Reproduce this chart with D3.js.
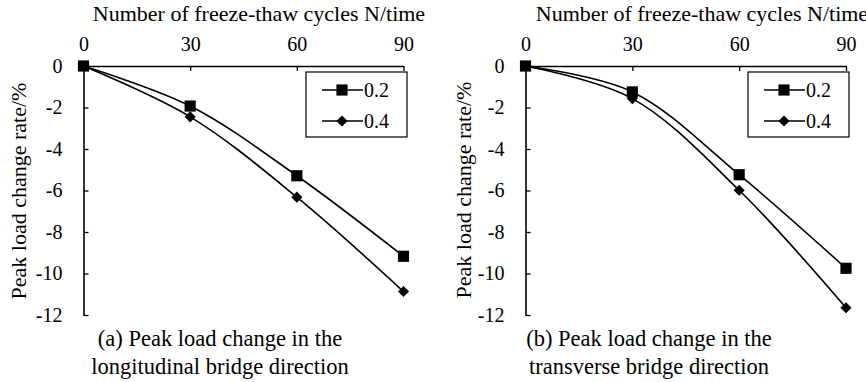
<!DOCTYPE html>
<html>
<head>
<meta charset="utf-8">
<script src="https://cdn.jsdelivr.net/npm/d3@7"></script>
</head>
<body style="margin:0">
<svg id="chart" width="866" height="382"></svg>
<script>
// Freeze-thaw cycles (x) and peak load change rate (%) per series
const cycles = [0, 30, 60, 90];
const seriesNames = ["0.2", "0.4"];
const yTicks = [0, -2, -4, -6, -8, -10, -12];
const xTicks = [0, 30, 60, 90];

const longitudinal02 = [0, -1.93, -5.29, -9.17];
const longitudinal04 = [0, -2.45, -6.32, -10.87];
const transverse02 = [0, -1.25, -5.24, -9.75];
const transverse04 = [0, -1.57, -5.99, -11.65];

const xTitle = "Number of freeze-thaw cycles N/time";
const yTitle = "Peak load change rate/%";
const captionsA = ["(a) Peak load change in the", "longitudinal bridge direction"];
const captionsB = ["(b) Peak load change in the", "transverse bridge direction"];

const svg = d3.select("#chart");

// square marker and a rotated-square diamond marker
const markers = [
  { type: d3.symbolSquare, size: 125, rotate: 0 },
  { type: d3.symbolSquare, size: 62, rotate: 45 }
];

function marker(sel, m) {
  sel.attr("d", d3.symbol().type(m.type).size(m.size)).attr("fill", "#000");
}

function serif(sel, size) {
  sel.style("font-family", "'Liberation Serif'")
    .style("font-size", size + "px")
    .attr("fill", "#000");
}

function drawPanel(opts) {
  const g = svg.append("g");
  const x = d3.scaleLinear().domain([0, 90]).range([opts.x0, opts.x1]);
  const y = d3.scaleLinear().domain([0, -12]).range([66, 315]);

  // top x axis, ticks pointing into the plot
  const xa = g.append("g")
    .attr("transform", `translate(0,${y(0)})`)
    .call(d3.axisTop(x).tickValues(xTicks).tickSizeInner(-5).tickSizeOuter(0).tickPadding(15));
  xa.attr("font-family", null).attr("font-size", null);
  xa.selectAll("text").call(serif, 20);
  xa.select(".domain").attr("stroke-width", 1.3);
  xa.selectAll(".tick line").attr("stroke-width", 1.3);

  // left y axis, ticks pointing into the plot
  const ya = g.append("g")
    .attr("transform", `translate(${x(0)},0)`)
    .call(d3.axisLeft(y).tickValues(yTicks).tickSizeInner(-5).tickSizeOuter(0).tickPadding(21)
      .tickFormat(d => d === 0 ? "0" : String(d).replace("−", "-")));
  ya.attr("font-family", null).attr("font-size", null);
  ya.selectAll("text").call(serif, 20);
  ya.select(".domain").attr("stroke-width", 1.6);
  ya.selectAll(".tick line").attr("stroke-width", 1.3);
  ya.selectAll(".tick").filter(d => d === 0).select("line").remove();

  // axis titles
  g.append("text")
    .attr("x", opts.xtX)
    .attr("y", 21)
    .attr("text-anchor", "middle")
    .call(serif, 22)
    .text(xTitle);

  g.append("text")
    .attr("transform", `translate(${opts.ytX},${opts.ytY}) rotate(-90)`)
    .attr("text-anchor", "middle")
    .call(serif, 22)
    .text(yTitle);

  // smoothed series lines and markers
  const line = d3.line()
    .x((d, i) => x(cycles[i]))
    .y(d => y(d))
    .curve(d3.curveCatmullRom.alpha(0.5));

  opts.series.forEach((vals, si) => {
    g.append("path")
      .datum(vals)
      .attr("d", line)
      .attr("fill", "none")
      .attr("stroke", "#000")
      .attr("stroke-width", 1.6);
    g.selectAll(null)
      .data(vals)
      .enter()
      .append("path")
      .attr("transform", (d, i) => `translate(${x(cycles[i])},${y(d)}) rotate(${markers[si].rotate})`)
      .call(marker, markers[si]);
  });

  // legend
  const lg = g.append("g").attr("transform", `translate(${opts.legX},72)`);
  lg.append("rect")
    .attr("width", 101).attr("height", 65)
    .attr("fill", "#fff").attr("stroke", "#000").attr("stroke-width", 1.2);
  seriesNames.forEach((name, si) => {
    const cy = 18 + si * 31;
    lg.append("line")
      .attr("x1", 16).attr("x2", 57).attr("y1", cy).attr("y2", cy)
      .attr("stroke", "#000").attr("stroke-width", 1.6);
    lg.append("path")
      .attr("transform", `translate(36,${cy}) rotate(${markers[si].rotate})`)
      .call(marker, markers[si]);
    lg.append("text")
      .attr("x", 58).attr("y", cy + 7)
      .call(serif, 20)
      .text(name);
  });

  // caption
  opts.captions.forEach((c, i) => {
    g.append("text")
      .attr("x", opts.capX)
      .attr("y", 346 + i * 28)
      .attr("text-anchor", "middle")
      .call(serif, 22.5)
      .text(c);
  });
}

drawPanel({
  x0: 83.5, x1: 403.5, xtX: 259, ytX: 26, ytY: 191, legX: 306,
  series: [longitudinal02, longitudinal04],
  captions: captionsA, capX: 220
});

drawPanel({
  x0: 525.5, x1: 846, xtX: 702, ytX: 471, ytY: 190, legX: 748,
  series: [transverse02, transverse04],
  captions: captionsB, capX: 649
});
</script>
</body>
</html>
